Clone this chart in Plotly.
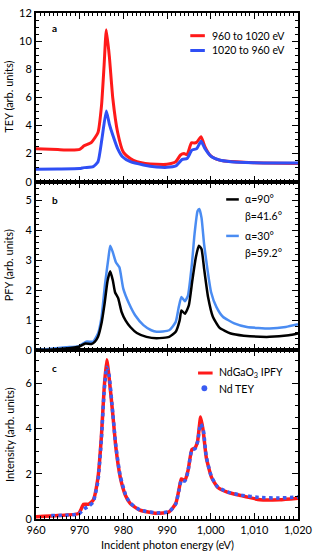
import plotly.graph_objects as go

# ---------------- data ----------------
# Panel a: TEY
a_red_E = [960, 965, 968, 970, 971, 972.7, 974.2, 975, 975.6, 976.1, 976.8, 977.6, 978.7, 980, 981.6, 983.1, 985,
           987.6, 990, 992, 993.1, 993.9, 994.6, 995.6, 996.3, 996.8, 997.8, 998.7, 999.8, 1001.3, 1003.1, 1007.6,
           1012, 1020]
a_red_V = [2.35, 2.28, 2.25, 2.3, 2.55, 2.8, 3.5, 5.4, 8.3, 10.8, 8.9, 5.9, 3.5, 2.1, 1.65, 1.42, 1.3,
           1.24, 1.24, 1.42, 1.9, 2.0, 1.93, 2.77, 2.75, 2.8, 3.2, 2.47, 1.9, 1.6, 1.47, 1.38,
           1.33, 1.3]
a_blue_E = [960, 965, 970, 971, 973.1, 974.2, 975.1, 976.1, 976.8, 977.6, 978.7, 979.8, 981.6, 984.6, 987.6, 990,
            992, 993.5, 994.6, 995.7, 996.8, 997.8, 998.7, 1000.2, 1002, 1004.6, 1009.8, 1020]
a_blue_V = [0.89, 0.9, 0.93, 1.0, 1.07, 1.42, 3.05, 5.03, 4.1, 3.3, 2.35, 1.77, 1.42, 1.19, 1.05, 1.02,
            1.12, 1.59, 1.65, 2.24, 2.35, 2.87, 2.35, 1.77, 1.54, 1.42, 1.35, 1.32]

# Panel b: PFY
b_black_E = [960, 966.8, 969.8, 971.3, 972.7, 973.5, 974.2, 975, 975.7, 976.4, 977, 977.6, 978.1, 978.8, 979.6,
             980.5, 981.6, 983.1, 985.3, 987.6, 990.5, 992, 992.9, 993.3, 994.1, 995, 995.8, 996.6, 997.3, 997.9,
             998.5, 999.4, 1000.5, 1002, 1004.6, 1007.6, 1013.5, 1017.9, 1020]
b_black_V = [0.0, 0.06, 0.12, 0.23, 0.21, 0.29, 0.45, 0.9, 1.55, 2.33, 2.64, 2.33, 1.94, 1.75, 1.28,
             1.0, 0.78, 0.58, 0.45, 0.4, 0.45, 0.62, 1.0, 1.33, 1.22, 1.5, 2.33, 3.1, 3.49, 3.38,
             2.72, 1.78, 1.12, 0.76, 0.56, 0.49, 0.45, 0.5, 0.56]
b_blue_E = [960, 966.8, 969.8, 971.5, 973.1, 974.2, 975, 975.8, 976.6, 977, 977.6, 978.3, 979.1, 980, 981.3,
            982.7, 984.6, 986.4, 987.6, 990.5, 992, 992.7, 993.3, 994.1, 994.8, 995.7, 996.3, 997, 997.4, 997.9,
            998.5, 999.3, 1000.1, 1001.3, 1002.8, 1005.4, 1008.3, 1013.5, 1017.2, 1020]
b_blue_V = [0.0, 0.1, 0.14, 0.29, 0.29, 0.56, 1.1, 2.2, 3.1, 3.49, 3.27, 2.94, 2.77, 2.05, 1.56,
            1.17, 0.84, 0.67, 0.62, 0.67, 0.95, 1.45, 1.78, 1.64, 1.83, 2.88, 3.87, 4.65, 4.72, 4.43,
            3.54, 2.66, 1.94, 1.45, 1.12, 0.9, 0.78, 0.73, 0.78, 0.87]

# Panel c: Intensity
c_red_E = [960, 965, 969.8, 970.9, 972, 973.1, 974.2, 975, 975.6, 976.2, 976.7, 977.6, 978.3, 979.3, 980.5,
           981.6, 983.8, 987.6, 990.5, 992, 992.7, 993.3, 994.1, 994.8, 995.7, 996.4, 997, 997.7, 998.3, 999,
           1000.2, 1001.6, 1003.8, 1006.8, 1011.3, 1015.7, 1020]
c_red_V = [0.1, 0.15, 0.25, 0.65, 0.65, 0.83, 1.84, 3.72, 5.75, 7.03, 6.33, 4.6, 3.14, 1.84, 1.04,
           0.68, 0.39, 0.25, 0.32, 0.68, 1.26, 1.77, 1.7, 2.13, 3.07, 3.14, 3.43, 4.5, 3.87, 2.71,
           1.84, 1.4, 1.19, 1.04, 0.85, 0.85, 0.92]
c_blue_E = [963.5, 967, 969.8, 971, 972, 973.1, 974.2, 975, 975.6, 976.2, 976.7, 977.6, 978.3, 979.3, 980.5,
            981.6, 983.8, 987.6, 990.5, 992, 992.7, 993.3, 994.1, 994.8, 995.7, 996.4, 997, 997.7, 998.3, 999,
            1000.2, 1001.6, 1003.8, 1006.8, 1011.3, 1015.7, 1020]
c_blue_V = [0.15, 0.17, 0.22, 0.45, 0.55, 0.75, 1.7, 3.6, 5.6, 6.7, 6.4, 4.65, 3.2, 1.9, 1.08,
            0.7, 0.4, 0.27, 0.33, 0.66, 1.22, 1.72, 1.68, 2.1, 3.05, 3.1, 3.4, 4.2, 3.95, 2.75,
            1.86, 1.42, 1.2, 1.06, 0.95, 0.93, 0.97]

legend_a = ["960 to 1020 eV", "1020 to 960 eV"]
legend_b = [("α=90°", "β=41.6°"), ("α=30°", "β=59.2°")]
legend_c = ["NdGaO<sub>3</sub> IPFY", "Nd TEY"]
panel_tags = ["a", "b", "c"]
y_titles = ["TEY (arb. units)", "PFY (arb. units)", "Intensity (arb. units)"]
x_title = "Incident photon energy (eV)"

RED = "#ff1a1a"
BLUE_A = "#2f4ff5"
BLUE_B = "#4a8cf2"
BLUE_C = "#3a5cf2"
FONT = "Lato"

W, H = 319, 553
L, R, T, B = 36, 13, 6, 34
PW, PH = W - L - R, H - T - B


def px(x):
    return (x - L) / PW


def py(y):
    return (H - B - y) / PH


def ln(color, width, dash="solid"):
    return dict(color=color, width=width, dash=dash, shape="spline", smoothing=0.5)


fig = go.Figure()
fig.add_trace(go.Scatter(x=a_red_E, y=a_red_V, mode="lines", line=ln(RED, 3), xaxis="x3", yaxis="y3"))
fig.add_trace(go.Scatter(x=a_blue_E, y=a_blue_V, mode="lines", line=ln(BLUE_A, 3), xaxis="x3", yaxis="y3"))
fig.add_trace(go.Scatter(x=b_blue_E, y=b_blue_V, mode="lines", line=ln(BLUE_B, 2.5), xaxis="x2", yaxis="y2"))
fig.add_trace(go.Scatter(x=b_black_E, y=b_black_V, mode="lines", line=ln("black", 2.5), xaxis="x2", yaxis="y2"))
fig.add_trace(go.Scatter(x=c_red_E, y=c_red_V, mode="lines", line=ln(RED, 3.5), xaxis="x", yaxis="y"))
fig.add_trace(go.Scatter(x=c_blue_E, y=c_blue_V, mode="lines", line=ln(BLUE_C, 3.5, "dot"), xaxis="x", yaxis="y"))

third = 1 / 3
common_x = dict(range=[960, 1020], dtick=10, tick0=960, ticks="inside", ticklen=6, tickwidth=1.3, tickcolor="black",
                minor=dict(dtick=1, ticks="inside", ticklen=3, tickwidth=1, tickcolor="black"),
                showline=True, linecolor="black", linewidth=2, mirror="ticks", showgrid=False, zeroline=False,
                tickformat=",d", ticklabeloverflow="allow", tickfont=dict(family=FONT, size=11, color="black"))
common_y = dict(ticks="inside", ticklen=6, tickwidth=1.3, tickcolor="black", showline=True, linecolor="black",
                linewidth=2, mirror="ticks", showgrid=False, zeroline=False,
                tickfont=dict(family=FONT, size=11, color="black"))

layout = dict(
    width=W, height=H, margin=dict(l=L, r=R, t=T, b=B), showlegend=False,
    plot_bgcolor="white", paper_bgcolor="white",
    font=dict(family=FONT, size=11, color="black"),
    xaxis=dict(common_x, anchor="y", domain=[0, 1]),
    xaxis2=dict(common_x, anchor="y2", matches="x", showticklabels=False),
    xaxis3=dict(common_x, anchor="y3", matches="x", showticklabels=False),
    yaxis=dict(common_y, domain=[0, third], range=[0, 7.45], dtick=2,
               minor=dict(dtick=0.5, ticks="inside", ticklen=3, tickwidth=1, tickcolor="black")),
    yaxis2=dict(common_y, domain=[third, 2 * third], range=[0, 5.63], dtick=1,
                minor=dict(dtick=0.2, ticks="inside", ticklen=3, tickwidth=1, tickcolor="black")),
    yaxis3=dict(common_y, domain=[2 * third, 1], range=[0, 12], dtick=2,
                minor=dict(dtick=0.5, ticks="inside", ticklen=3, tickwidth=1, tickcolor="black")),
)
fig.update_layout(**layout)

shapes = []
ann = []


def seg(x0, x1, y, color, width):
    shapes.append(dict(type="line", xref="paper", yref="paper", x0=px(x0), x1=px(x1), y0=py(y), y1=py(y),
                       line=dict(color=color, width=width)))


def text(x, y, s, size=10.5, bold=False, anchor="left"):
    ann.append(dict(xref="paper", yref="paper", x=px(x), y=py(y), text=("<b>%s</b>" % s) if bold else s,
                    showarrow=False, xanchor=anchor, yanchor="middle",
                    font=dict(family=FONT, size=size, color="black")))


# legend a
seg(195, 210, 29, RED, 3)
text(215, 29, legend_a[0])
seg(195, 210, 44, BLUE_A, 3)
text(215, 44, legend_a[1])
# legend b
seg(232, 245, 195, "black", 2.5)
text(249, 195, legend_b[0][0])
text(249, 212, legend_b[0][1])
seg(232, 245, 232, BLUE_B, 2.5)
text(249, 232, legend_b[1][0])
text(249, 249, legend_b[1][1])
# legend c
seg(203, 218, 371, RED, 3)
text(223, 371, legend_c[0])
shapes.append(dict(type="circle", xref="paper", yref="paper", x0=px(206.5), x1=px(212.5), y0=py(383.5), y1=py(389.5),
                   fillcolor=BLUE_C, line=dict(color=BLUE_C, width=0)))
text(223, 387, legend_c[1])

# panel tags
text(50, 21, panel_tags[0], size=10, bold=True)
text(50, 196, panel_tags[1], size=10, bold=True)
text(50, 366, panel_tags[2], size=10, bold=True)

# axis titles
for yc, t in zip([91, 262, 433], y_titles):
    ann.append(dict(xref="paper", yref="paper", x=px(8), y=py(yc), text=t, textangle=-90, showarrow=False,
                    xanchor="center", yanchor="middle", font=dict(family=FONT, size=11, color="black")))
ann.append(dict(xref="paper", yref="paper", x=px(171), y=py(545), text=x_title, showarrow=False,
                xanchor="center", yanchor="middle", font=dict(family=FONT, size=11, color="black")))

fig.update_layout(shapes=shapes, annotations=ann)
fig.write_html("out.html", config={"displayModeBar": False},
               post_script="document.body.style.margin='0';document.body.style.padding='0';")
